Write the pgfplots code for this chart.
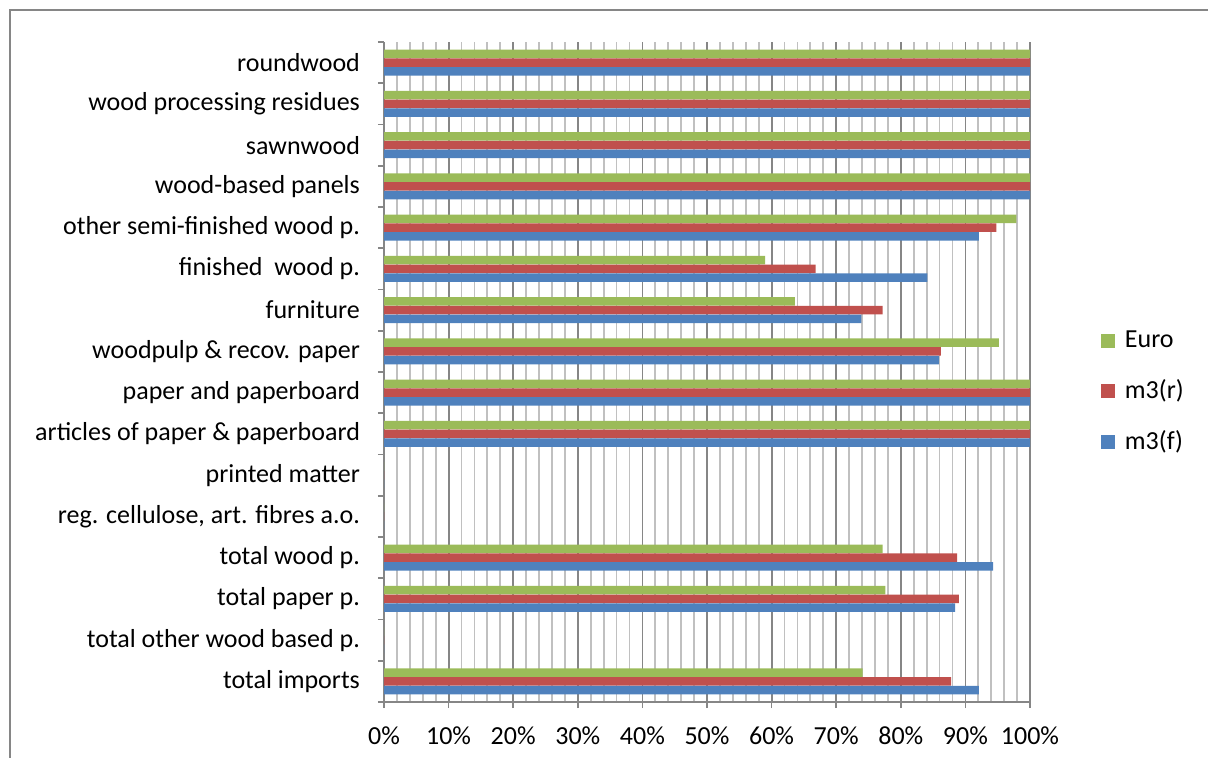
\documentclass[border=0pt]{standalone}
\usepackage{fontspec}
\setmainfont{Carlito}
\usepackage{pgfplots}
\pgfplotsset{compat=1.18}
\definecolor{cEuro}{RGB}{155,187,89}
\definecolor{cRed}{RGB}{192,80,77}
\definecolor{cBlue}{RGB}{79,129,189}
\definecolor{gMaj}{RGB}{134,134,134}
\definecolor{gMin}{RGB}{192,192,192}
\begin{document}
\fontsize{13bp}{15.6bp}\selectfont
\begin{tikzpicture}
\useasboundingbox (0,0) rectangle (604bp,379bp);
\draw[gMaj, line width=0.8bp] (5bp,0) -- (5bp,374bp) -- (604bp,374bp);
\begin{axis}[
  at={(192bp,28bp)}, anchor=south west,
  scale only axis, width=323bp, height=330bp,
  xbar, bar width=0.205,
  xmin=0, xmax=100, ymin=-0.5, ymax=15.5,
  y dir=reverse,
  axis x line*=bottom, axis y line*=left,
  axis line style={gMaj, line width=0.8bp, -},
  tick style={gMaj, line width=0.8bp},
  tick align=outside, major tick length=3bp, minor tick length=0pt,
  xtick={0,10,...,100},
  xticklabels={0\%,10\%,20\%,30\%,40\%,50\%,60\%,70\%,80\%,90\%,100\%},
  minor x tick num=4,
  xmajorgrids, xminorgrids,
  major grid style={gMaj, line width=0.9bp},
  minor grid style={gMin, line width=0.9bp},
  xticklabel style={yshift=-5bp},
  ytick={-0.5,0.5,...,15.5}, yticklabels={},
  extra y ticks={0,1,...,15},
  extra y tick labels={roundwood, wood processing residues, sawnwood, wood-based panels, other semi-finished wood p., finished\ \ wood p., furniture, woodpulp \& recov. paper, paper and paperboard, articles of paper \& paperboard, printed matter, {reg. cellulose, art. fibres a.o.}, total wood p., total paper p., total other wood based p., total imports},
  extra y tick style={major tick length=0pt, yticklabel style={xshift=-7.5bp}, grid=none},
  legend style={at={(1.1,0.47)}, anchor=west, draw=none, fill=none,
    row sep=10bp, column sep=3bp,
    font=\fontsize{13bp}{15.6bp}\selectfont},
  legend cell align=left,
  legend image code/.code={\fill[#1] (0bp,-3.5bp) rectangle (7bp,3.5bp);},
]
\addplot[fill=cEuro, draw=none, bar shift=-0.21] coordinates {
  (100,0) (100,1) (100,2) (100,3) (97.9,4) (59.0,5) (63.6,6) (95.2,7)
  (100,8) (100,9) (0,10) (0,11) (77.2,12) (77.6,13) (0,14) (74.1,15)};
\addlegendentry{Euro}
\addplot[fill=cRed, draw=none, bar shift=0] coordinates {
  (100,0) (100,1) (100,2) (100,3) (94.8,4) (66.8,5) (77.2,6) (86.2,7)
  (100,8) (100,9) (0,10) (0,11) (88.7,12) (89.0,13) (0,14) (87.8,15)};
\addlegendentry{m3(r)}
\addplot[fill=cBlue, draw=none, bar shift=0.21] coordinates {
  (100,0) (100,1) (100,2) (100,3) (92.1,4) (84.1,5) (73.9,6) (85.9,7)
  (100,8) (100,9) (0,10) (0,11) (94.3,12) (88.4,13) (0,14) (92.1,15)};
\addlegendentry{m3(f)}
\end{axis}
\end{tikzpicture}
\end{document}
